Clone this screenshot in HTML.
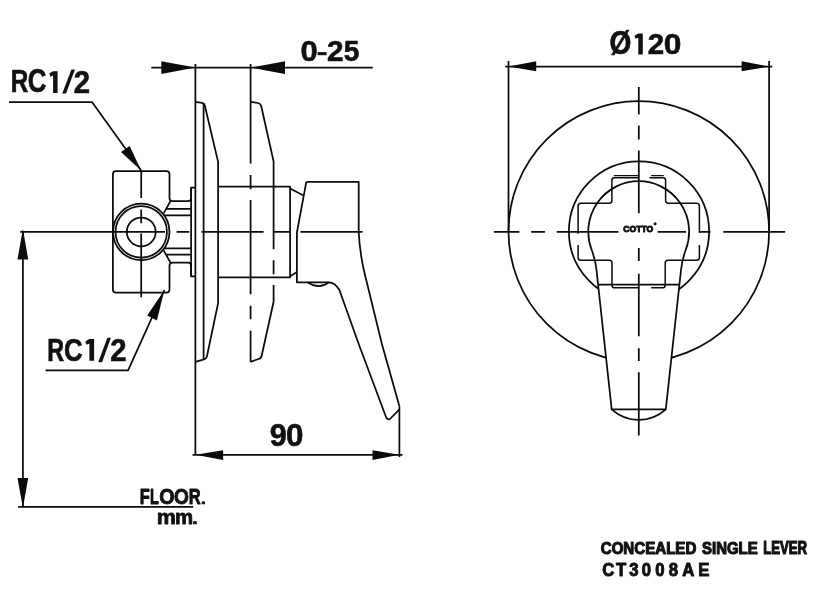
<!DOCTYPE html>
<html><head><meta charset="utf-8">
<style>
html,body{margin:0;padding:0;background:#fff;width:816px;height:592px;overflow:hidden}
svg{display:block}
text{font-family:"Liberation Sans",sans-serif;font-weight:bold;fill:#111;stroke:#111;stroke-width:0.4px;stroke-linejoin:round}
svg{will-change:transform}
</style></head>
<body>
<svg width="816" height="592" viewBox="0 0 816 592">
<g fill="none" stroke="#0b0b0b" stroke-width="1.75" stroke-linejoin="round" stroke-linecap="butt">

<!-- ===== LEFT VIEW ===== -->
<!-- dim 0-25 -->
<path d="M151.3 67.6H372.8"/>
<path d="M195.4 64V454.8"/>
<path d="M250.6 64V163.5M250.6 175V189.2M250.6 200V294.3M250.6 305.8V319.3M250.6 330.8V361.9"/>

<!-- RC1/2 top leader -->
<path d="M9 102H92L141.2 170.6"/>
<!-- RC1/2 bottom leader -->
<path d="M45.6 370.3H128.1L164.4 290"/>

<!-- left vertical dim -->
<path d="M22.9 231.9V506.9"/>
<path d="M20.2 231.9H165M176.6 231.9H189.2M201.5 231.9H263.6M273.8 231.9H289.8M300.4 231.9H362.5"/>
<path d="M18.1 506.9H193.1"/>

<!-- 90 dim -->
<path d="M192.5 454.8H402.5"/>
<path d="M399.4 406.3V457"/>

<!-- valve box -->
<path d="M141.2 170.7V198M141.2 209.5V223.2M141.2 233.4V297.3"/>
<path d="M169.5 198V174.3Q169.5 171.2 166.4 171.2H116Q112.9 171.2 112.9 174.3V289.6Q112.9 292.7 116 292.7H166.4Q169.5 292.7 169.5 289.6V265.7Q169.5 262.6 172.6 262.6H188Q191.1 262.6 191.1 265.7V276.3H195.4"/>
<path d="M169.5 198Q169.5 201.1 172.6 201.1H188Q191.1 201.1 191.1 198V187.5H195.4"/>
<path d="M191.1 187.5V276.3"/>
<path d="M170.5 201.1L163.6 213.4M163.6 250.4L170.5 262.6"/>
<path d="M166.4 208.9H191.1M163.9 215.4H191.1M163.9 248.4H191.1M166.4 254.7H191.1"/>
<circle cx="141.25" cy="231.9" r="28.2"/>
<circle cx="141.25" cy="231.9" r="25.7"/>
<circle cx="141.25" cy="231.9" r="14.4"/>

<!-- plate 1 -->
<path d="M195.4 101.9L202 102.9Q204.2 103.3 204.8 105.5L218.1 161.9V303.1L206.9 356.5Q206.3 359 204 359.4L195.4 361.8"/>
<path d="M203.6 103.2V360"/>
<!-- plate 2 -->
<path d="M250.6 101.9L258 103Q260.5 103.5 261.2 106L273.6 161.5V249.2M273.6 260.2V274.3M273.6 284.9V301.8L261.6 356Q261 358.6 258.5 359L250.6 361.9"/>

<!-- body -->
<path d="M218.1 186.5H290.1V277.4H218.1"/>
<path d="M290.1 188.5L303 195.3"/>
<path d="M290.1 276.2L296.9 272.1"/>

<!-- lever side view -->
<path d="M306.3 181.9H358.7V232.5Q360 255 365 275L381.9 344L399.4 406.3"/>
<path d="M306.3 181.9L296.9 232.5V282.3H328.7Q335 282.4 339.4 290L358.7 344L386.2 417.5Q387.5 420 390 419L399.4 409.4"/>
<path d="M307.8 282.4Q318.5 290 329 282.4"/>

<!-- ===== RIGHT VIEW ===== -->
<path d="M505.3 66.5H772.3"/>
<path d="M508.5 61V231.5M769.1 61V231.5"/>
<circle cx="638.8" cy="231.5" r="130.3"/>
<circle cx="639" cy="231.5" r="70.1"/>
<path fill="#fff" stroke="none" d="M611.7 409.3L596.5 270Q595.4 259.7 591.7 250A50.45 50.45 0 1 1 685.7 250Q682.1 259.7 681 270L665.8 409.3A40.1 40.1 0 0 1 611.7 409.3Z"/>
<path d="M611.7 409.3L596.5 270Q595.4 259.7 591.7 250A50.45 50.45 0 1 1 685.7 250Q682.1 259.7 681 270L665.8 409.3A40.1 40.1 0 0 1 611.7 409.3Z"/>
<path d="M611.7 409.3H665.8"/>
<path stroke-width="1.5" d="M638.8 177.8H614.4Q611.9 177.8 611.9 180.3V200.6Q611.9 203.3 609.2 203.3H581Q578.1 203.3 578.1 206.2V233.7M578.1 245V257.4Q578.1 260.2 581 260.2H609.3Q612 260.2 612 263V285.2Q612 287.8 614.6 287.8H638.8M651.2 287.8H662.5Q665.2 287.8 665.2 285.2V263Q665.2 260.2 668 260.2H696.5Q699.4 260.2 699.4 257.4V245M699.4 232.5V206.2Q699.4 203.3 696.5 203.3H668.3Q665.6 203.3 665.6 200.6V180.3Q665.6 177.8 663 177.8H649.4"/>
<path stroke-width="1.4" d="M613.8 175.6H639.7M651.1 175.6H663.8"/><path d="M598.8 284.7H679"/>
<path d="M493.8 231.9H519.4M531.2 231.9H544.9M556.7 231.9H618.4M657.6 231.9H686.1M698.8 231.9H710.6M723.3 231.9H785.1"/>
<path d="M638.8 86.9V114.4M638.8 125.6V139.4M638.8 150.6V213.3M638.8 248V261M638.8 273.8V336.2M638.8 348.3V361M638.8 372.3V435.5"/>
</g>

<!-- arrowheads -->
<g fill="#0b0b0b" stroke="none">
<polygon points="161.3,61.3 195.4,67.6 161.3,73.9"/>
<polygon points="285,61.3 250.6,67.6 285,73.9"/>
<polygon points="121,151.9 141.3,170.7 129.6,146"/>
<polygon points="147.2,315.6 164.4,290 156.9,320.6"/>
<polygon points="17.5,259.4 22.9,228.8 28.2,259.4"/>
<polygon points="17.5,478.1 22.9,508 28.2,478.1"/>
<polygon points="223.1,450.3 195.4,454.8 223.1,460"/>
<polygon points="372.5,450.3 399.4,454.8 372.5,460"/>
<polygon points="536.2,61.3 508.5,66.5 536.2,71.3"/>
<polygon points="741.6,61.3 769.1,66.5 741.6,71.3"/>
</g>

<!-- texts -->
<!--GLYPHS-->
<text transform="matrix(0.2429 0 0 0.3212 10.67 92.40)" font-size="100" vector-effect="non-scaling-stroke" style="stroke-width:0.6px">R</text>
<text transform="matrix(0.2584 0 0 0.3234 27.74 92.38)" font-size="100" vector-effect="non-scaling-stroke" style="stroke-width:0.6px">C</text>
<path fill="#111" d="M57.60 71.20 L57.60 92.90 L53.10 92.90 L53.10 75.60 L50.40 76.80 L49.20 73.60 L53.00 71.20Z"/>
<path fill="#111" d="M71.39 69.50 L74.90 69.50 L66.07 93.60 L62.20 93.60Z"/>
<text transform="matrix(0.2931 0 0 0.3123 73.87 92.50)" font-size="100" vector-effect="non-scaling-stroke" style="stroke-width:0.6px">2</text>
<text transform="matrix(0.2334 0 0 0.3212 47.34 360.70)" font-size="100" vector-effect="non-scaling-stroke" style="stroke-width:0.6px">R</text>
<text transform="matrix(0.2584 0 0 0.3220 64.04 360.58)" font-size="100" vector-effect="non-scaling-stroke" style="stroke-width:0.6px">C</text>
<path fill="#111" d="M94.10 339.00 L94.10 360.80 L89.39 360.80 L89.39 343.42 L86.56 344.63 L85.30 341.41 L89.28 339.00Z"/>
<path fill="#111" d="M107.39 337.80 L110.90 337.80 L102.07 362.20 L98.20 362.20Z"/>
<text transform="matrix(0.2931 0 0 0.3080 110.17 360.50)" font-size="100" vector-effect="non-scaling-stroke" style="stroke-width:0.6px">2</text>
<text transform="matrix(0.3095 0 0 0.2966 300.56 61.30)" font-size="100" vector-effect="non-scaling-stroke" style="stroke-width:0.6px">0</text>
<text transform="matrix(0.2973 0 0 0.2894 327.06 61.20)" font-size="100" vector-effect="non-scaling-stroke" style="stroke-width:0.6px">2</text>
<text transform="matrix(0.2797 0 0 0.2894 343.73 61.31)" font-size="100" vector-effect="non-scaling-stroke" style="stroke-width:0.6px">5</text>
<text transform="matrix(0.2806 0 0 0.3236 609.55 54.47)" font-size="100" vector-effect="non-scaling-stroke" style="stroke-width:0.6px">Ø</text>
<path fill="#111" d="M642.80 33.40 L642.80 54.50 L638.30 54.50 L638.30 37.68 L635.60 38.85 L634.40 35.73 L638.20 33.40Z"/>
<text transform="matrix(0.2952 0 0 0.2937 647.87 54.20)" font-size="100" vector-effect="non-scaling-stroke" style="stroke-width:0.6px">2</text>
<text transform="matrix(0.3179 0 0 0.3037 663.83 54.40)" font-size="100" vector-effect="non-scaling-stroke" style="stroke-width:0.6px">0</text>
<text transform="matrix(0.3058 0 0 0.3107 269.83 446.29)" font-size="100" vector-effect="non-scaling-stroke" style="stroke-width:0.6px">9</text>
<text transform="matrix(0.3137 0 0 0.3136 286.05 446.49)" font-size="100" vector-effect="non-scaling-stroke" style="stroke-width:0.6px">0</text>
<text transform="matrix(0.1637 0 0 0.2122 139.80 504.00)" font-size="100" vector-effect="non-scaling-stroke" style="stroke-width:0.8px">F</text>
<text transform="matrix(0.1442 0 0 0.2122 149.93 504.00)" font-size="100" vector-effect="non-scaling-stroke" style="stroke-width:0.8px">L</text>
<text transform="matrix(0.1971 0 0 0.2147 159.19 504.09)" font-size="100" vector-effect="non-scaling-stroke" style="stroke-width:0.8px">O</text>
<text transform="matrix(0.1914 0 0 0.2147 174.12 504.09)" font-size="100" vector-effect="non-scaling-stroke" style="stroke-width:0.8px">O</text>
<text transform="matrix(0.1656 0 0 0.2122 188.79 504.00)" font-size="100" vector-effect="non-scaling-stroke" style="stroke-width:0.8px">R</text>
<text transform="matrix(0.1702 0 0 0.1477 200.94 504.00)" font-size="100" vector-effect="non-scaling-stroke" style="stroke-width:0.8px">.</text>
<text transform="matrix(0.2155 0 0 0.2041 156.78 523.50)" font-size="100" vector-effect="non-scaling-stroke" style="stroke-width:0.8px">m</text>
<text transform="matrix(0.2037 0 0 0.2041 174.96 523.50)" font-size="100" vector-effect="non-scaling-stroke" style="stroke-width:0.8px">m</text>
<text transform="matrix(0.1986 0 0 0.1678 192.15 523.50)" font-size="100" vector-effect="non-scaling-stroke" style="stroke-width:0.8px">.</text>
<rect x="317.6" y="52.1" width="9" height="3.1" fill="#111"/>
<text transform="matrix(0.1510 0 0 0.1695 600.73 553.88)" font-size="100" vector-effect="non-scaling-stroke" style="stroke-width:1.1px">CONCEALED</text>
<text transform="matrix(0.1494 0 0 0.1695 702.02 553.88)" font-size="100" vector-effect="non-scaling-stroke" style="stroke-width:1.1px">SINGLE</text>
<text transform="matrix(0.1315 0 0 0.1744 763.27 554.05)" font-size="100" vector-effect="non-scaling-stroke" style="stroke-width:1.1px">LEVER</text>
<!--/GLYPHS-->
<text x="623.3" y="232.4" font-size="9.6" textLength="30" lengthAdjust="spacingAndGlyphs" style="stroke-width:1px">COTTO</text>
<circle cx="655.1" cy="223.8" r="1.5" fill="#111"/>
<g style="stroke-width:0.8px"><text transform="translate(608.3,576.1) scale(0.9,1)" text-anchor="middle" font-size="18.6" style="stroke-width:1px">C</text><text transform="translate(621.2,576.1) scale(0.9,1)" text-anchor="middle" font-size="18.6" style="stroke-width:1px">T</text><text transform="translate(634,576.1) scale(0.9,1)" text-anchor="middle" font-size="18.6" style="stroke-width:1px">3</text><text transform="translate(646.5,576.1) scale(0.9,1)" text-anchor="middle" font-size="18.6" style="stroke-width:1px">0</text><text transform="translate(659.8,576.1) scale(0.9,1)" text-anchor="middle" font-size="18.6" style="stroke-width:1px">0</text><text transform="translate(673.4,576.1) scale(0.9,1)" text-anchor="middle" font-size="18.6" style="stroke-width:1px">8</text><text transform="translate(688.4,576.1) scale(0.9,1)" text-anchor="middle" font-size="18.6" style="stroke-width:1px">A</text><text transform="translate(703.9,576.1) scale(0.9,1)" text-anchor="middle" font-size="18.6" style="stroke-width:1px">E</text></g>
</svg>
</body></html>
